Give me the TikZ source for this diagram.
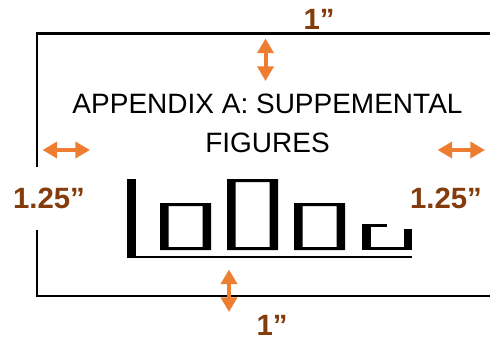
\documentclass[tikz,border=0pt]{standalone}
\usepackage{fontspec}
\setmainfont{Liberation Sans}
\usetikzlibrary{arrows.meta,positioning}
\definecolor{marginbrown}{HTML}{843C0C}
\definecolor{marginorange}{HTML}{ED7D31}
\tikzset{
  pagetext/.style={font=\fontsize{21}{29.5}\selectfont, align=center, inner sep=0pt},
  dimlabel/.style={font=\fontsize{22}{26}\selectfont\bfseries, text=marginbrown, inner sep=0pt},
  dimarrow/.style={draw=marginorange, line width=3pt,
    {Triangle[width=12pt,length=11pt]}-{Triangle[width=12pt,length=11pt]}},
  frameline/.style={line width=1.6pt}
}
% one bar of the sketch: left x, top y (bottom at 250)
\newcommand{\chartbar}[2]{%
  \fill[even odd rule] (#1,#2) rectangle (#1+51,250) (#1+8.5,#2+3) rectangle (#1+42.5,247);}

\begin{document}
\begin{tikzpicture}[x=0.75pt,y=0.75pt,yscale=-1,xscale=1]
\useasboundingbox (0,0) rectangle (490,337);
\clip (0,0) rectangle (490,337);

%Shape: page frame, open at the right
\draw[frameline] (500,33.5) -- (37,33.5) -- (37,296) -- (500,296);

%Text: heading
\node[pagetext] (heading) at (267.5,123.3) {APPENDIX A: SUPPEMENTAL\\FIGURES};

%Shape: bar chart sketch
\fill (127,179) rectangle (135.5,258);
\draw[line width=1.5pt] (127,257.3) -- (412,257.3);
\chartbar{160}{203}
\chartbar{227}{179}
\chartbar{294}{203}
\fill (362,224) rectangle (370.5,250);
\fill (362,224) rectangle (387,226.5);
\fill (403.5,229) rectangle (412,250);
\fill (362,247) rectangle (412,250);

%Labels: margins
\node[dimlabel] (topmargin) at (319,19.5) {1”};
\node[dimlabel] (bottommargin) at (272,325) {1”};
\node[dimlabel, fill=white, minimum height=47pt, inner xsep=3pt] (leftmargin) at (49,198.5) {1.25”};
\node[dimlabel] (rightmargin) at (446,198.5) {1.25”};

%Arrows
\coordinate (topa) at (265.5,38.5);
\coordinate (topb) at (265.5,81);
\coordinate (bota) at (229,269.5);
\coordinate (botb) at (229,312);
\coordinate (lefta) at (42.5,150);
\coordinate (leftb) at (90,150);
\coordinate (righta) at (437.5,150);
\coordinate (rightb) at (485,150);
\draw[dimarrow] (topa) -- (topb);
\draw[dimarrow] (bota) -- (botb);
\draw[dimarrow] (lefta) -- (leftb);
\draw[dimarrow] (righta) -- (rightb);

\end{tikzpicture}
\end{document}
